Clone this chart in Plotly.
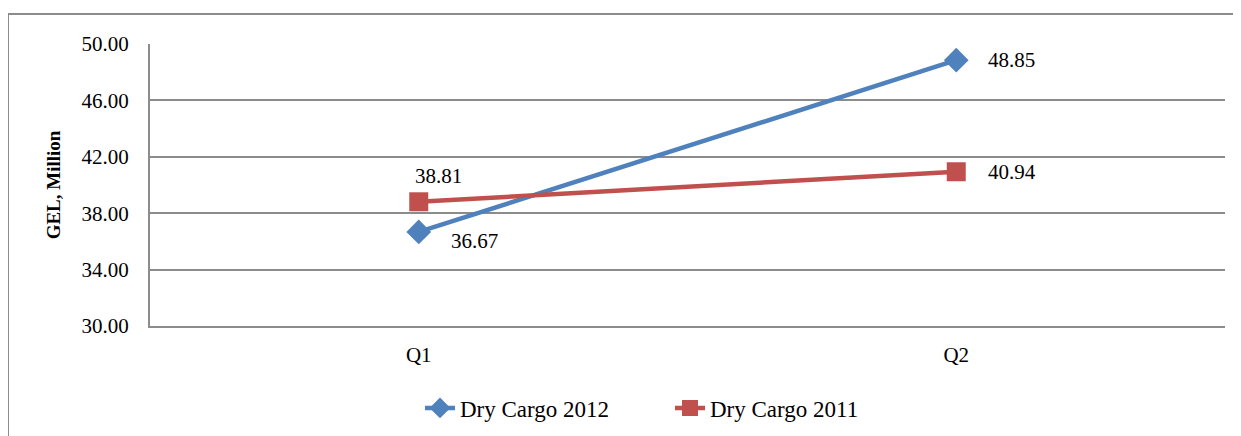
import plotly.graph_objects as go

categories = ["Q1", "Q2"]
dry_cargo_2012 = [36.67, 48.85]
dry_cargo_2011 = [38.81, 40.94]
y_ticks = [30, 34, 38, 42, 46, 50]
y_tick_labels = ["30.00", "34.00", "38.00", "42.00", "46.00", "50.00"]

BLUE = "#4F81BD"
RED = "#C0504D"
GRID = "#8C8C8C"
FONT = "Liberation Serif, Times New Roman, serif"

fig = go.Figure()
fig.add_trace(go.Scatter(
    x=categories, y=dry_cargo_2012, name="Dry Cargo 2012",
    mode="lines+markers",
    line=dict(color=BLUE, width=4.5),
    marker=dict(symbol="diamond", size=19, color=BLUE),
))
fig.add_trace(go.Scatter(
    x=categories, y=dry_cargo_2011, name="Dry Cargo 2011",
    mode="lines+markers",
    line=dict(color=RED, width=4.5),
    marker=dict(symbol="square", size=19, color=RED),
))

# data labels
label_specs = [
    (categories[0], dry_cargo_2012[0], 30, -9),
    (categories[1], dry_cargo_2012[1], 30, 0),
    (categories[0], dry_cargo_2011[0], -6, 26),
    (categories[1], dry_cargo_2011[1], 30, 0),
]
for cat, val, xs, ys in label_specs:
    fig.add_annotation(
        x=cat, y=val, xref="x", yref="y", text=f"{val:.2f}",
        showarrow=False, xanchor="left", yanchor="middle",
        xshift=xs, yshift=ys,
        font=dict(family=FONT, size=21, color="black"),
    )

# page has an 8px body margin: figure pixel p -> screen p + 8
W, H = 1233, 428
L, R, T, B = 142, 16, 36, 110
pw, ph = W - L - R, H - T - B
def px_to_paper_x(px):
    return (px - L) / pw
def px_to_paper_y(py):
    return (H - B - py) / ph

# outer chart frame (cropped by the image edges)
fig.add_shape(type="rect", xref="paper", yref="paper",
              x0=px_to_paper_x(0), x1=px_to_paper_x(1260),
              y0=px_to_paper_y(460), y1=px_to_paper_y(6),
              line=dict(color=GRID, width=2), fillcolor="rgba(0,0,0,0)",
              layer="below")

fig.update_layout(
    width=W, height=H,
    margin=dict(l=L, r=R, t=T, b=B, autoexpand=False),
    paper_bgcolor="white", plot_bgcolor="white",
    font=dict(family=FONT, size=21, color="black"),
    showlegend=True,
    legend=dict(orientation="h",
                xref="container", x=412 / W, xanchor="left",
                yref="container", y=(H - 400) / H, yanchor="middle",
                entrywidth=205, entrywidthmode="pixels",
                font=dict(family=FONT, size=23),
                bgcolor="rgba(0,0,0,0)"),
    xaxis=dict(
        type="category", range=[-0.5, 1.5],
        showgrid=False, showline=True, linecolor=GRID, linewidth=2,
        ticks="", ticklabelstandoff=9,
        tickfont=dict(family=FONT, size=21),
        zeroline=False,
    ),
    yaxis=dict(
        range=[30, 50], tickvals=y_ticks, ticktext=y_tick_labels,
        showgrid=True, gridcolor=GRID, gridwidth=2,
        showline=True, linecolor=GRID, linewidth=2,
        ticks="", ticklabelstandoff=15,
        tickfont=dict(family=FONT, size=21),
        zeroline=False,
        title=dict(text="<b>GEL, Million</b>", standoff=16,
                   font=dict(family=FONT, size=19)),
    ),
)

fig.write_html("out.html")
